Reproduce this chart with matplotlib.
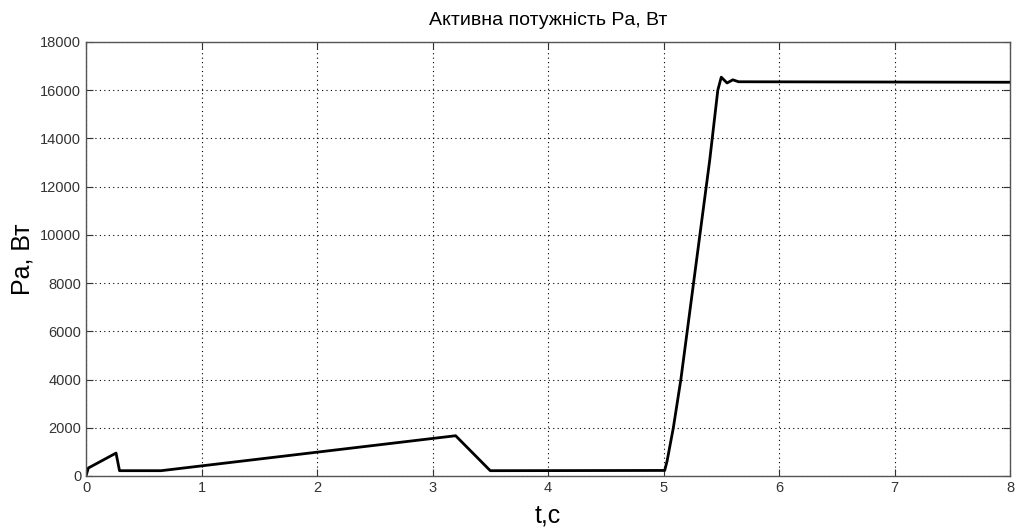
import matplotlib.pyplot as plt
import numpy as np

# активна потужність фази a, Вт
t = [0.0, 0.02, 0.26, 0.29, 0.65, 3.20, 3.50, 5.01, 5.03, 5.085, 5.15,
     5.40, 5.47, 5.50, 5.55, 5.60, 5.65, 8.0]
pa = [0, 330, 950, 220, 220, 1670, 220, 230, 600, 2000, 4000,
      13100, 16000, 16540, 16300, 16430, 16350, 16330]

xticks = np.arange(0, 9, 1)
yticks = np.arange(0, 18001, 2000)

plt.rcParams['font.family'] = ['Liberation Sans', 'DejaVu Sans']

fig = plt.figure(figsize=(10.19, 5.30), dpi=100)
ax = fig.add_axes([0.0844, 0.1019, 0.9068, 0.8189])

ax.plot(t, pa, color='black', linewidth=2.0)

ax.set_xlim(0, 8)
ax.set_ylim(0, 18000)
ax.set_xticks(xticks)
ax.set_yticks(yticks)
ax.tick_params(direction='in', length=5, labelsize=10.5, colors='#333333',
               top=True, right=True, labelcolor='#333333')
ax.grid(True, linestyle=(0, (1, 3)), color='black', linewidth=0.8)

for s in ax.spines.values():
    s.set_color('#555555')
    s.set_linewidth(1.0)

ax.set_title('Активна потужність Pa, Вт', fontsize=14, pad=12)
ax.set_xlabel('t,c', fontsize=18, labelpad=6)
ax.set_ylabel('Pa, Вт', fontsize=18, labelpad=4)

fig.savefig('out.png', dpi=100)
